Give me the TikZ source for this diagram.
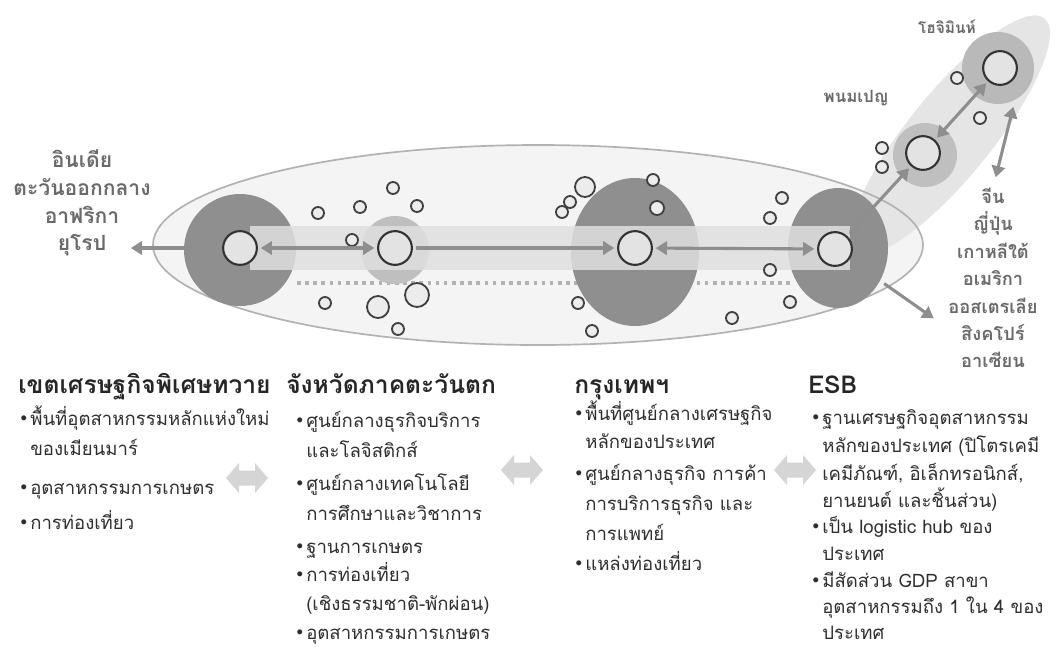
\documentclass[tikz,border=0pt]{standalone}
\usepackage{fontspec}
\setmainfont{Loma}[Script=Thai]
\usetikzlibrary{arrows.meta, positioning}

\definecolor{linkgray}{HTML}{8E8E8E}
\definecolor{discgray}{HTML}{8F8F8F}
\definecolor{labelgray}{HTML}{6A6A6A}
\newcommand\bul{\llap{\raisebox{2.2pt}{${\scriptstyle\bullet}$}\,}}

\tikzset{
  zone/.style={fill=gray!9},
  hub/.style={circle, draw=black!80, line width=1.5pt, fill=gray!22, minimum size=24pt, inner sep=0pt},
  link/.style={draw=linkgray, line width=2.2pt, shorten <=2pt, shorten >=2pt},
  site/.style={draw=black!75, line width=1.3pt, fill=gray!15},
  place/.style={font=\bfseries\fontsize{13}{19.5}\selectfont, text=labelgray, align=center},
  head/.style={font=\bfseries\fontsize{17.5}{20}\selectfont, text=black!85, anchor=base west, inner sep=0pt},
  item/.style={font=\fontsize{13.2}{15}\selectfont, text=black!82, anchor=base west, inner sep=0pt},
  swap/.style={fill=gray!33}
}

\begin{document}
\begin{tikzpicture}[x=0.025cm, y=-0.025cm, >={Triangle[length=8pt,width=9.5pt]}]
    \useasboundingbox (0,0) rectangle (1064,646);

    % Corridor
    \fill[zone] (538,245) ellipse [x radius=385, y radius=100];
    \fill[gray!20, rotate around={51:(950,135)}] (950,135) ellipse [x radius=150, y radius=42];
    \draw[gray!60, line width=1.2pt] (538,245) ellipse [x radius=385, y radius=100];
    \draw[gray!60, line width=3pt, dash pattern=on 2.6pt off 3.2pt] (297,283) -- (790,283);

    % Hub areas
    \fill[discgray] (240,250) circle [radius=56];
    \fill[gray!50] (395,250) circle [radius=34];
    \fill[discgray] (635,252) ellipse [x radius=64, y radius=74];
    \fill[discgray] (838,248) ellipse [x radius=50, y radius=60];
    \fill[gray!50] (925,155) circle [radius=32];
    \fill[gray!55] (998,68) circle [radius=36];
    \fill[gray!25, opacity=0.85] (250,226) rectangle (850,270);

    % Hubs
    \node[hub] (dawei) at (240,248) {};
    \node[hub] (west) at (395,248) {};
    \node[hub] (bkk) at (635,248) {};
    \node[hub] (esb) at (835,249) {};
    \node[hub] (pnp) at (923,153) {};
    \node[hub] (hcm) at (1000,68) {};

    % Small sites
    \foreach \x/\y/\r in {318/213/6, 360/207/6, 393/188/6, 417/206/6, 352/240/6, 325/303/6,
        378/307/11, 417/295/12, 398/329/6, 585/187/10, 570/202/6, 562/212/6, 653/180/6,
        657/208/7, 782/198/6, 770/218/6, 770/270/6, 578/303/6, 592/331/6, 732/318/6,
        790/302/6, 882/148/6, 882/167/6, 957/78/6, 980/118/6}
      \draw[site] (\x,\y) circle [radius=\r];

    % Places
    \node[place, font=\bfseries\fontsize{15}{19.8}\selectfont] (europe) at (82,203) {อินเดีย\\ตะวันออกกลาง\\อาฟริกา\\ยุโรป};
    \node[place] (asia) at (993,278) {จีน\\ญี่ปุ่น\\เกาหลีใต้\\อเมริกา\\ออสเตรเลีย\\สิงคโปร์\\อาเซียน};
    \node[place, font=\bfseries\fontsize{12}{14}\selectfont] (pnplabel) at (856,98) {พนมเปญ};
    \node[place, font=\bfseries\fontsize{11}{12}\selectfont] (hcmlabel) at (947,27) {โฮจิมินห์};
    \coordinate (westend) at (128,248);
    \coordinate (seaend) at (936,320);
    \coordinate (hcmtail) at (1014,104);
    \coordinate (hcmhead) at (995,180);

    % Links
    \draw[link,<->] (dawei) -- (west);
    \draw[link,->] (west) -- (bkk);
    \draw[link,<->] (bkk) -- (esb);
    \draw[link,<->] (esb) -- (pnp);
    \draw[link,<->] (pnp) -- (hcm);
    \draw[link,->, shorten <=22pt] (dawei) -- (westend);
    \draw[link,->, shorten <=30pt] (esb) -- (seaend);
    \draw[link,<->] (hcmtail) -- (hcmhead);

    % Areas
    \node[head] (h1) at (18,393) {เขตเศรษฐกิจพิเศษทวาย};
    \node[head] (h2) at (286,393) {จังหวัดภาคตะวันตก};
    \node[head] (h3) at (574,393) {กรุงเทพฯ};
    \node[head] (h4) at (808,393) {ESB};

    \foreach \y/\t [count=\i] in {425/{\bul พื้นที่อุตสาหกรรมหลักแห่งใหม่}, 455/{ของเมียนมาร์},
        494/{\bul อุตสาหกรรมการเกษตร}, 529/{\bul การท่องเที่ยว}}
      \node[item] (a\i) at (30,\y) {\t};
    \foreach \y/\t [count=\i] in {427/{\bul ศูนย์กลางธุรกิจบริการ}, 457/{และโลจิสติกส์},
        490/{\bul ศูนย์กลางเทคโนโลยี}, 520/{การศึกษาและวิชาการ}, 553/{\bul ฐานการเกษตร},
        581/{\bul การท่องเที่ยว}, 610/{(เชิงธรรมชาติ-พักผ่อน)}, 639/{\bul อุตสาหกรรมการเกษตร}}
      \node[item] (b\i) at (306,\y) {\t};
    \foreach \y/\t [count=\i] in {420/{\bul พื้นที่ศูนย์กลางเศรษฐกิจ}, 448/{หลักของประเทศ},
        480/{\bul ศูนย์กลางธุรกิจ การค้า}, 510/{การบริการธุรกิจ และ}, 540/{การแพทย์},
        570/{\bul แหล่งท่องเที่ยว}}
      \node[item] (c\i) at (585,\y) {\t};
    \foreach \y/\t [count=\i] in {424/{\bul ฐานเศรษฐกิจอุตสาหกรรม}, 452/{หลักของประเทศ (ปิโตรเคมี},
        480/{เคมีภัณฑ์, อิเล็กทรอนิกส์,}, 507/{ยานยนต์ และชิ้นส่วน)}, 533/{\bul เป็น logistic hub ของ},
        560/{ประเทศ}, 587/{\bul มีสัดส่วน GDP สาขา}, 613/{อุตสาหกรรมถึง 1 ใน 4 ของ}, 639/{ประเทศ}}
      \node[item] (d\i) at (822,\y) {\t};

    % Swap arrows between areas
    \foreach \x/\y in {247/478, 522/470, 795/470}
      \fill[swap, shift={(\x,\y)}] (-21,0) -- (-8,-15) -- (-8,-7.5) -- (8,-7.5) -- (8,-15) -- (21,0)
        -- (8,15) -- (8,7.5) -- (-8,7.5) -- (-8,15) -- cycle;
\end{tikzpicture}
\end{document}
